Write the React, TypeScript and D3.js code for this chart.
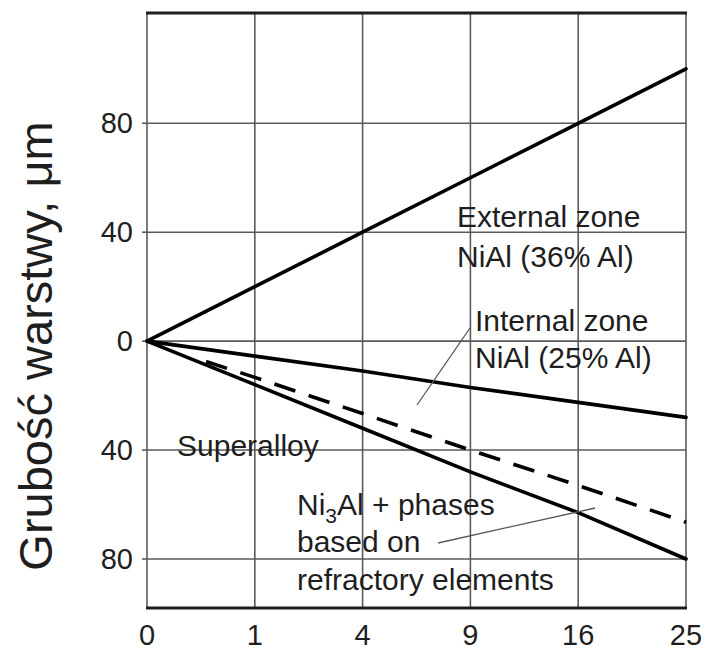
import React from 'react'
import * as d3 from 'd3'

// time (h) on a square-root axis, layer thickness in µm (negative = into the alloy)
const timeTicks = [0, 1, 4, 9, 16, 25]
const thicknessTicks = [-80, -40, 0, 40, 80]

const externalZone = [0, 20, 40, 60, 80, 100]
const internalZone = [0, -5.5, -11, -17, -22.5, -28]
const ni3alFront = [0, -16, -32, -48, -63, -80]
const dashedTimes = [0.3, 1, 4, 9, 16, 25]
const dashedFront = [-7.5, -13.3, -26.6, -40, -53, -66.5]

const FONT = '"Liberation Sans", Arial, Helvetica, sans-serif'
const INK = '#1e1e1e'

const x = d3.scaleSqrt().domain([0, 25]).range([147, 686])
const y = d3.scaleLinear().domain([-98, 120.5]).range([608, 13])

const line = d3.line<[number, number]>()
  .x(d => x(d[0]))
  .y(d => y(d[1]))

const pairs = (ts: number[], vs: number[]) => ts.map((t, i) => [t, vs[i]] as [number, number])

export default function App () {
  const left = x(0)
  const right = x(25)
  const top = y(120.5)
  const bottom = y(-98)

  return (
    <div style={{ position: 'absolute', left: 0, top: 0 }}>
      <svg width={710} height={650} style={{ display: 'block', background: '#fff' }} fontFamily={FONT}>
        {/* grid */}
        <g stroke='#5a5a5a' strokeWidth={1.6}>
          {timeTicks.map(t => (
            <line key={'v' + t} x1={x(t)} x2={x(t)} y1={top} y2={bottom} />
          ))}
          {thicknessTicks.map(v => (
            <line key={'h' + v} x1={left} x2={right} y1={y(v)} y2={y(v)} />
          ))}
        </g>
        {/* frame top / bottom */}
        <line x1={left - 1} x2={right + 1} y1={top} y2={top} stroke={INK} strokeWidth={3} />
        <line x1={left - 1} x2={right + 1} y1={bottom} y2={bottom} stroke={INK} strokeWidth={3} />

        {/* y ticks */}
        <g fill={INK} fontSize={29} textAnchor='end'>
          {thicknessTicks.map(v => (
            <g key={'yt' + v}>
              <line x1={left - 5} x2={left} y1={y(v)} y2={y(v)} stroke='#5a5a5a' strokeWidth={1.6} />
              <text x={133} y={y(v)} dy='0.35em'>{Math.abs(v)}</text>
            </g>
          ))}
        </g>

        {/* x ticks */}
        <g fill={INK} fontSize={29} textAnchor='middle'>
          {timeTicks.map(t => (
            <text key={'xt' + t} x={x(t)} y={645}>{t}</text>
          ))}
        </g>

        {/* y title */}
        <text transform='translate(52,346) rotate(-90)' textAnchor='middle' fontSize={47} fill={INK}>
          Grubość warstwy, μm
        </text>

        {/* growth lines */}
        <g fill='none' stroke='#000' strokeWidth={3.6} strokeLinecap='round'>
          <path d={line(pairs(timeTicks, externalZone)) || ''} />
          <path d={line(pairs(timeTicks, internalZone)) || ''} />
          <path d={line(pairs(timeTicks, ni3alFront)) || ''} />
          <path d={line(pairs(dashedTimes, dashedFront)) || ''} strokeDasharray='22 14' strokeLinecap='butt' />
        </g>

        {/* leader lines */}
        <g stroke='#555' strokeWidth={1.3}>
          <line x1={470} y1={328} x2={417} y2={405} />
          <line x1={438} y1={543} x2={595} y2={508} />
        </g>

        {/* annotations */}
        <g fill={INK} fontSize={30}>
          <text x={457} y={227}>External zone</text>
          <text x={457} y={267}>NiAl (36% Al)</text>
          <text x={475} y={331}>Internal zone</text>
          <text x={475} y={368}>NiAl (25% Al)</text>
          <text x={177} y={456}>Superalloy</text>
          <text x={297} y={515}>Ni<tspan fontSize={21} dy={8}>3</tspan><tspan dy={-8}>Al + phases</tspan></text>
          <text x={297} y={552}>based on</text>
          <text x={297} y={590}>refractory elements</text>
        </g>
      </svg>
    </div>
  )
}
